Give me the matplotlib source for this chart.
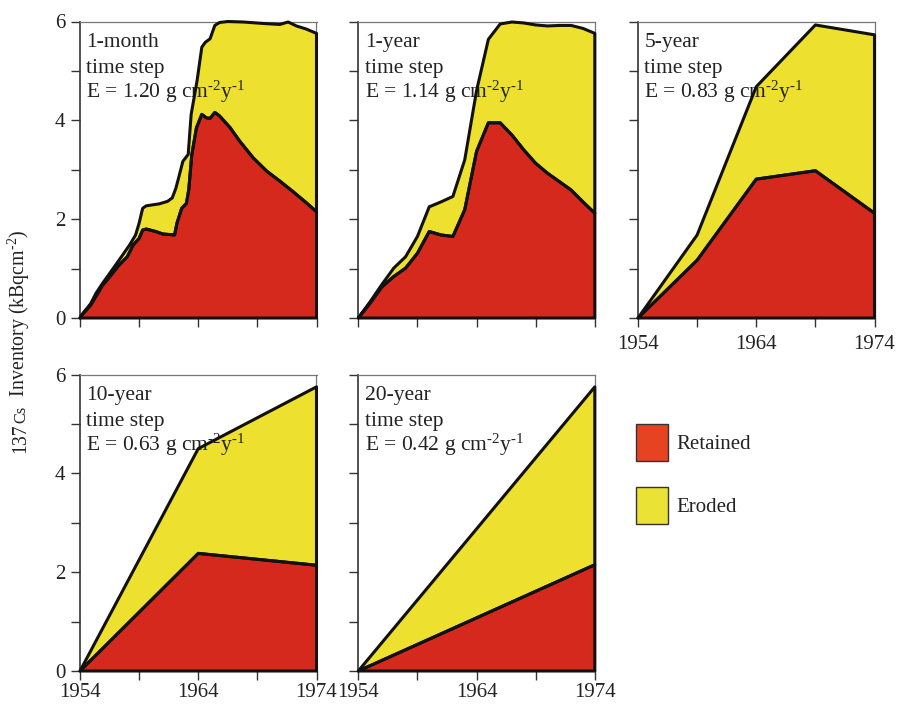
import numpy as np
import matplotlib
matplotlib.use("Agg")
import matplotlib.pyplot as plt
from matplotlib.patches import Patch

plt.rcParams['font.family'] = ['Liberation Serif', 'DejaVu Serif']
plt.rcParams['mathtext.fontset'] = 'custom'
plt.rcParams['mathtext.rm'] = 'Liberation Serif'
plt.rcParams['mathtext.it'] = 'Liberation Serif:italic'
plt.rcParams['mathtext.default'] = 'regular'

# ---------------- data ----------------
# 1-month time step
m1_total_years = [1954.0, 1954.2, 1954.9, 1955.35, 1955.9, 1956.5, 1957.3, 1958.2, 1958.7, 1959.0,
                  1959.3, 1959.6, 1960.7, 1961.4, 1961.8, 1962.1, 1962.3, 1962.7, 1963.15, 1963.4,
                  1963.9, 1964.3, 1964.6, 1965.0, 1965.4, 1965.8, 1966.5, 1967.8, 1969.5, 1970.9,
                  1971.6, 1972.3, 1973.1, 1974.0]
m1_total = [0.0, 0.08, 0.29, 0.50, 0.70, 0.90, 1.17, 1.48, 1.68, 1.92,
            2.22, 2.27, 2.31, 2.36, 2.43, 2.62, 2.80, 3.17, 3.31, 4.12,
            4.80, 5.48, 5.58, 5.65, 5.92, 5.98, 6.0, 5.99, 5.96, 5.94,
            5.99, 5.91, 5.85, 5.76]
m1_ret_years = [1954.0, 1954.2, 1954.9, 1955.9, 1956.5, 1957.3, 1958.0, 1958.5, 1959.0, 1959.3,
                1959.6, 1960.4, 1961.0, 1962.0, 1962.2, 1962.6, 1963.0, 1963.2, 1963.45, 1963.85,
                1964.3, 1964.7, 1965.0, 1965.4, 1965.8, 1966.7, 1967.5, 1968.65, 1969.8, 1970.9,
                1972.0, 1973.15, 1974.0]
m1_ret = [0.0, 0.07, 0.26, 0.66, 0.83, 1.07, 1.24, 1.48, 1.61, 1.78,
          1.80, 1.75, 1.70, 1.68, 1.92, 2.22, 2.32, 2.60, 3.30, 3.85,
          4.12, 4.05, 4.04, 4.16, 4.09, 3.85, 3.58, 3.24, 2.97, 2.77,
          2.56, 2.33, 2.15]

# 1-year time step
y1_years = list(range(1954, 1975))
y1_total = [0.0, 0.33, 0.68, 1.01, 1.24, 1.65, 2.25, 2.35, 2.46, 3.20, 4.60,
            5.64, 5.95, 5.99, 5.97, 5.93, 5.91, 5.92, 5.92, 5.86, 5.76]
y1_ret = [0.0, 0.30, 0.63, 0.84, 1.01, 1.31, 1.75, 1.68, 1.65, 2.19, 3.37,
          3.95, 3.95, 3.70, 3.40, 3.13, 2.93, 2.76, 2.59, 2.35, 2.12]

# 5-year time step
y5_years = [1954, 1959, 1964, 1969, 1974]
y5_total = [0.0, 1.68, 4.68, 5.93, 5.73]
y5_ret = [0.0, 1.17, 2.81, 2.98, 2.12]

# 10-year time step
y10_years = [1954, 1964, 1974]
y10_total = [0.0, 4.50, 5.75]
y10_ret = [0.0, 2.38, 2.14]

# 20-year time step
y20_years = [1954, 1974]
y20_total = [0.0, 5.75]
y20_ret = [0.0, 2.15]

panel_titles = ["1-month", "1-year", "5-year", "10-year", "20-year"]
erosion_rates = ["1.20", "1.14", "0.83", "0.63", "0.42"]
series_labels = ["Retained", "Eroded"]

xticks = [1954, 1959, 1964, 1969, 1974]
xticklabels = ["1954", "", "1964", "", "1974"]
yticks = [0, 1, 2, 3, 4, 5, 6]
yticklabels = ["0", "", "2", "", "4", "", "6"]

panels = [
    (m1_total_years, m1_total, m1_ret_years, m1_ret),
    (y1_years, y1_total, y1_years, y1_ret),
    (y5_years, y5_total, y5_years, y5_ret),
    (y10_years, y10_total, y10_years, y10_ret),
    (y20_years, y20_total, y20_years, y20_ret),
]

RED = "#d6291e"
YELLOW = "#eee02e"
TXT = "#222222"

W, H = 898, 705
fig = plt.figure(figsize=(W / 100, H / 100), dpi=100)

lefts = [80, 358.3, 638, 80, 358.3]
bottoms = [318, 318, 318, 671, 671]
aw, ah = 236.5, 296.5
show_x = [False, False, True, True, True]
show_y = [True, False, False, True, False]
xpads = [6.0, 6.0, 6.0, 1.8, 1.8]
line_offsets_px = [25.5, 51.5, 76.5]

for i, (tx, ty, rx, ry) in enumerate(panels):
    ax = fig.add_axes([lefts[i] / W, (H - bottoms[i]) / H, aw / W, ah / H])
    tx = np.asarray(tx, float); ty = np.asarray(ty, float)
    rx = np.asarray(rx, float); ry = np.asarray(ry, float)
    ex = np.concatenate([tx, rx[::-1]])
    ey = np.concatenate([ty, ry[::-1]])
    gx = np.concatenate([[rx[0]], rx, [rx[-1]]])
    gy = np.concatenate([[0.0], ry, [0.0]])
    ax.fill(ex, ey, facecolor=YELLOW, edgecolor='none', zorder=1)
    ax.fill(gx, gy, facecolor=RED, edgecolor='none', zorder=1)
    lines = [panel_titles[i], "time step",
             f"E = {erosion_rates[i]} g cm$^{{\\text{{-}}2}}$y$^{{\\text{{-}}1}}$"]
    for ln, off in zip(lines, line_offsets_px):
        ax.text(0.027, 1 - off / ah, ln, transform=ax.transAxes, ha='left',
                va='baseline', fontsize=15.5, color=TXT, zorder=2)
    ax.fill(ex, ey, facecolor='none', edgecolor='#111111', linewidth=2.2,
            joinstyle='round', zorder=3, clip_on=False)
    ax.fill(gx, gy, facecolor='none', edgecolor='#111111', linewidth=2.2,
            joinstyle='round', zorder=3, clip_on=False)

    ax.set_xlim(1954, 1974)
    ax.set_ylim(0, 6)
    ax.set_xticks(xticks)
    ax.set_yticks(yticks)
    ax.set_xticklabels(xticklabels if show_x[i] else [""] * len(xticks))
    ax.set_yticklabels(yticklabels if show_y[i] else [""] * len(yticks))
    ax.tick_params(axis='both', direction='out', length=6.5, width=1.0,
                   color='#333333', labelsize=15, labelcolor=TXT)
    ax.tick_params(axis='x', pad=xpads[i])
    ax.tick_params(axis='y', pad=4)
    for side in ['left', 'bottom']:
        ax.spines[side].set_color('#333333')
        ax.spines[side].set_linewidth(1.2)
    for side in ['top', 'right']:
        ax.spines[side].set_color('#777777')
        ax.spines[side].set_linewidth(0.9)

# legend
handles = [Patch(facecolor="#e64322", edgecolor="#333333", linewidth=1.0),
           Patch(facecolor="#ebe236", edgecolor="#333333", linewidth=1.0)]
fig.legend(handles, series_labels, loc='upper left',
           bbox_to_anchor=(635.7 / W, (H - 424.3) / H), bbox_transform=fig.transFigure,
           frameon=False, fontsize=15, handlelength=1.54, handleheight=2.315,
           handletextpad=0.4, labelspacing=1.28, borderpad=0, borderaxespad=0,
           labelcolor=TXT)

# y label built from pieces (137 normal size, Cs smaller)
fig.canvas.draw()
renderer = fig.canvas.get_renderer()
lx = 25 / W
ly = (H - 453) / H
for s, fs in [("137", 14.3), ("Cs", 11.8), ("  Inventory (kBqcm$^{\\text{-}2}$)", 14.3)]:
    t = fig.text(lx, ly, s, rotation=90, rotation_mode='anchor', ha='left',
                 va='baseline', fontsize=fs, color=TXT)
    ly += t.get_window_extent(renderer).height / fig.bbox.height

fig.savefig("out.png", dpi=100)
